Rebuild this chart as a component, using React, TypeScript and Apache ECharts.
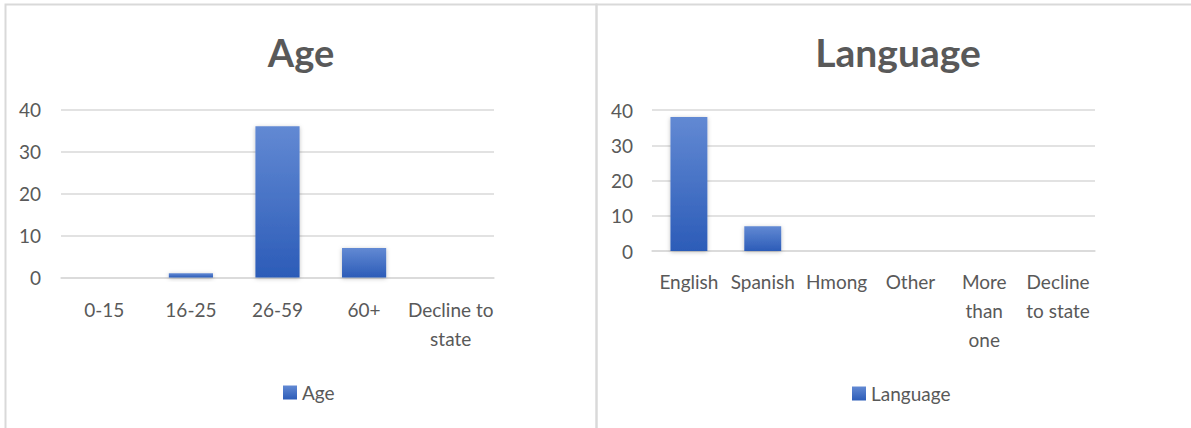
import React, { useEffect, useRef } from "react";
import * as echarts from "echarts";

const ageCategories = ["0-15", "16-25", "26-59", "60+", "Decline to state"];
const ageValues = [0, 1, 36, 7, 0];
const langCategories = ["English", "Spanish", "Hmong", "Other", "More than one", "Decline to state"];
const langValues = [38, 7, 0, 0, 0, 0];
const yTicks = { min: 0, max: 40, interval: 10 };

const ageWrap: Record<string, string> = { "Decline to state": "Decline to\nstate" };
const langWrap: Record<string, string> = {
  "More than one": "More\nthan\none",
  "Decline to state": "Decline\nto state",
};

const TEXT = "#595959";
const GRID = "#d9d9d9";
const FONT = "Lato, 'Open Sans', sans-serif";

const barColor = new echarts.graphic.LinearGradient(0, 0, 0, 1, [
  { offset: 0, color: "#6289d3" },
  { offset: 1, color: "#2c5cb8" },
]);

export default function App() {
  const ref = useRef<HTMLDivElement>(null);
  useEffect(() => {
    if (!ref.current) return;
    const chart = echarts.init(ref.current, undefined, { renderer: "svg" });
    const yAxisBase = (gridIndex: number, margin: number) => ({
      type: "value",
      gridIndex,
      min: yTicks.min,
      max: yTicks.max,
      interval: yTicks.interval,
      axisLine: { show: false },
      axisTick: { show: false },
      axisLabel: { color: TEXT, fontSize: 19, fontFamily: FONT, margin },
      splitLine: { lineStyle: { color: GRID, width: 1.5 } },
    });
    const xAxisBase = (gridIndex: number, data: string[], wrap: Record<string, string>, margin: number) => ({
      type: "category",
      gridIndex,
      data,
      axisLine: { show: true, lineStyle: { color: GRID, width: 1.5 } },
      axisTick: { show: false },
      axisLabel: {
        color: TEXT,
        fontSize: 19,
        fontFamily: FONT,
        lineHeight: 29,
        margin,
        interval: 0,
        formatter: (v: string) => wrap[v] ?? v,
      },
    });
    const barStyle = {
      color: barColor,
      shadowColor: "rgba(0,0,0,0.25)",
      shadowBlur: 4,
      shadowOffsetY: 1,
    };
    const legendText = { color: TEXT, fontSize: 19, fontFamily: FONT };
    chart.setOption({
      animation: false,
      graphic: [
        {
          type: "rect",
          shape: { x: 5.5, y: 4.5, width: 591, height: 440 },
          style: { fill: "none", stroke: GRID, lineWidth: 2 },
          silent: true,
        },
        {
          type: "rect",
          shape: { x: 596.5, y: 4.5, width: 610, height: 440 },
          style: { fill: "none", stroke: GRID, lineWidth: 2 },
          silent: true,
        },
        {
          type: "text",
          x: 301,
          y: 52,
          style: {
            text: "Age",
            fill: TEXT,
            font: `bold 38px ${FONT}`,
            textAlign: "center",
            textVerticalAlign: "middle",
          },
        },
        {
          type: "text",
          x: 898,
          y: 52,
          style: {
            text: "Language",
            fill: TEXT,
            font: `bold 39px ${FONT}`,
            textAlign: "center",
            textVerticalAlign: "middle",
          },
        },
      ],
      legend: [
        {
          data: ["Age"],
          left: 278,
          top: 378,
          icon: "rect",
          itemWidth: 14,
          itemHeight: 14,
          textStyle: legendText,
        },
        {
          data: ["Language"],
          left: 847,
          top: 379,
          icon: "rect",
          itemWidth: 14,
          itemHeight: 14,
          textStyle: legendText,
        },
      ],
      grid: [
        { left: 61, top: 109.5, width: 433, height: 168 },
        { left: 652, top: 110, width: 443, height: 141 },
      ],
      xAxis: [
        xAxisBase(0, ageCategories, ageWrap, 17),
        xAxisBase(1, langCategories, langWrap, 16),
      ],
      yAxis: [yAxisBase(0, 20), yAxisBase(1, 19)],
      series: [
        {
          name: "Age",
          type: "bar",
          xAxisIndex: 0,
          yAxisIndex: 0,
          data: ageValues,
          barWidth: "51%",
          itemStyle: barStyle,
        },
        {
          name: "Language",
          type: "bar",
          xAxisIndex: 1,
          yAxisIndex: 1,
          data: langValues,
          barWidth: "50%",
          itemStyle: barStyle,
        },
      ],
    });
    return () => chart.dispose();
  }, []);
  return (
    <div
      ref={ref}
      style={{ position: "absolute", left: 0, top: 0, width: 1191, height: 428, background: "#fff" }}
    />
  );
}
